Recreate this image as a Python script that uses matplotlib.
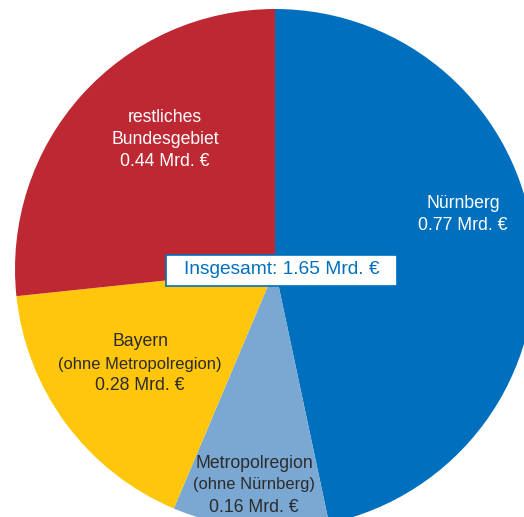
import matplotlib
matplotlib.use("Agg")
import matplotlib.pyplot as plt
from matplotlib.patches import Rectangle

plt.rcParams['font.family'] = ['Liberation Sans', 'DejaVu Sans']

categories = ["Nürnberg", "Metropolregion", "Bayern", "restliches"]
subtitles = ["", "(ohne Nürnberg)", "(ohne Metropolregion)", "Bundesgebiet"]
values = [0.77, 0.16, 0.28, 0.44]
total_label = "Insgesamt: 1.65 Mrd. €"
colors = ["#0070BE", "#7AA8D3", "#FFC60B", "#BE2833"]
text_colors = ["white", "#2b2b2b", "#2b2b2b", "white"]

W, H = 524, 517
CX, CY, R = 275, 269, 260

fig = plt.figure(figsize=(W / 100, H / 100), dpi=100)
ax = fig.add_axes([0, 0, 1, 1])
ax.pie(values, colors=colors, startangle=90, counterclock=False, radius=1,
       wedgeprops=dict(linewidth=0))
ax.set_aspect('auto')
ax.set_xlim(-CX / R, (W - CX) / R)
ax.set_ylim((CY - H) / R, CY / R)
ax.axis('off')

def px(x, y):
    return (x - CX) / R, (CY - y) / R

# (x center, y of first line) in pixel layout
label_pos = [(463, 203), (254, 463), (140, 342), (165, 118)]
step = 22
for cat, sub, v, (lx, ly), tc in zip(categories, subtitles, values, label_pos, text_colors):
    lines = [(cat, 12.7)]
    if sub:
        lines.append((sub, 12.7 if sub == "Bundesgebiet" else 11.9))
    lines.append((f"{v:.2f} Mrd. €", 12.7))
    for i, (t, fs) in enumerate(lines):
        x, y = px(lx, ly + i * step)
        ax.text(x, y, t, ha='center', va='center', color=tc, fontsize=fs)

x0, y0 = px(166, 286)
x1, y1 = px(397, 255)
ax.add_patch(Rectangle((x0, y0), x1 - x0, y1 - y0, facecolor='white',
                       edgecolor='#0070BE', linewidth=1.2, zorder=5))
x, y = px(282, 270)
ax.text(x, y, total_label, ha='center', va='center', color="#0070BE", fontsize=13.8, zorder=6)

fig.savefig("out.png", dpi=100)
